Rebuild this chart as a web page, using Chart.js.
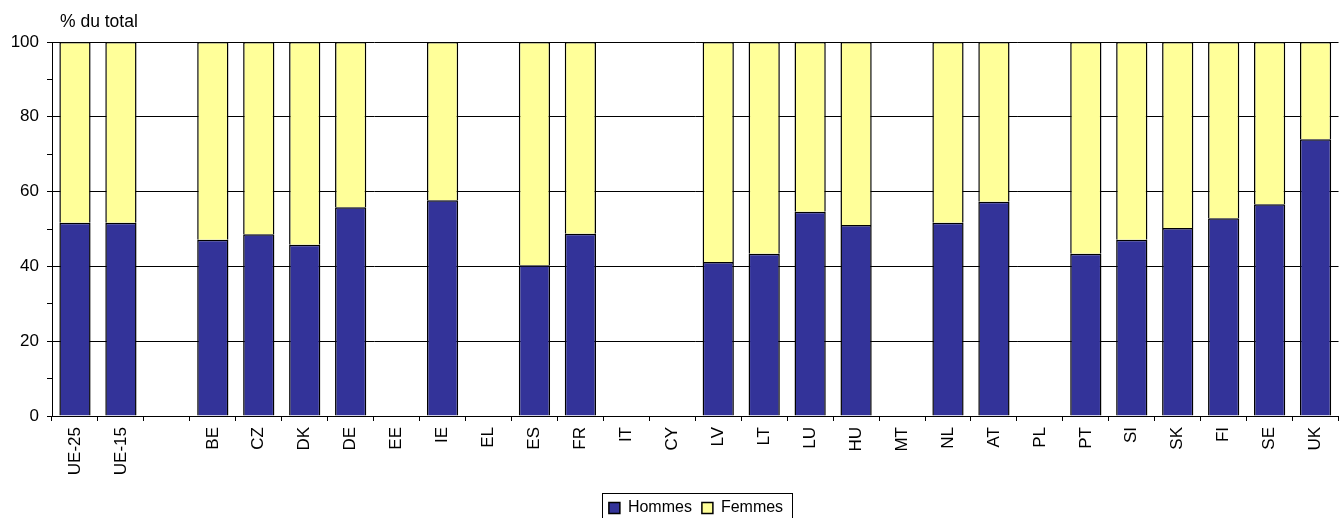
<!DOCTYPE html>
<html>
<head>
<meta charset="utf-8">
<script src="https://cdn.jsdelivr.net/npm/chart.js@4/dist/chart.umd.min.js"></script>
<style>
  html, body { margin: 0; padding: 0; background: #fff; }
  #wrap { position: relative; width: 1342px; height: 518px; }
</style>
</head>
<body>
<div id="wrap"><canvas id="chart"></canvas></div>
<script>
const categories = ['UE-25', 'UE-15', '', 'BE', 'CZ', 'DK', 'DE', 'EE', 'IE', 'EL', 'ES', 'FR', 'IT', 'CY',
  'LV', 'LT', 'LU', 'HU', 'MT', 'NL', 'AT', 'PL', 'PT', 'SI', 'SK', 'FI', 'SE', 'UK'];

const hommes = [51.7, 51.7, null, 47.1, 48.6, 45.8, 55.8, null, 57.7, null, 40.3, 48.7, null, null,
  41.2, 43.4, 54.6, 51.1, null, 51.7, 57.3, null, 43.4, 47.1, 50.3, 52.9, 56.6, 74.0];

const femmes = [48.3, 48.3, null, 52.9, 51.4, 54.2, 44.2, null, 42.3, null, 59.7, 51.3, null, null,
  58.8, 56.6, 45.4, 48.9, null, 48.3, 42.7, null, 56.6, 52.9, 49.7, 47.1, 43.4, 26.0];

const yTicks = [0, 20, 40, 60, 80, 100];
const unitLabel = '% du total';

const FONT = 'Arial, "Liberation Sans", sans-serif';

// title text above the y axis + frame round the legend
const extras = {
  id: 'extras',
  afterLayout(chart) {
    const lg = chart.legend;
    lg.left = chart.chartArea.left;
    lg.top += 8;
  },
  afterDraw(chart) {
    const ctx = chart.ctx;
    const area = chart.chartArea;
    ctx.save();
    ctx.fillStyle = '#000';
    ctx.font = '17.5px ' + FONT;
    ctx.textBaseline = 'middle';
    ctx.fillText(unitLabel, area.left + 8, area.top - 20);

    const boxes = chart.legend.legendHitBoxes;
    if (boxes && boxes.length) {
      const first = boxes[0];
      const last = boxes[boxes.length - 1];
      const x0 = Math.round(first.left - 7) + 0.5;
      const x1 = Math.round(last.left + last.width + 9) + 0.5;
      const y0 = Math.round(first.top - 7) + 0.5;
      const y1 = Math.round(first.top + first.height + 6) + 0.5;
      ctx.strokeStyle = '#000';
      ctx.lineWidth = 1;
      ctx.strokeRect(x0, y0, x1 - x0, y1 - y0);
    }
    ctx.restore();
  }
};

new Chart(document.getElementById('chart'), {
  type: 'bar',
  data: {
    labels: categories,
    datasets: [
      { label: 'Hommes', data: hommes, backgroundColor: '#333399', borderColor: '#000', borderWidth: 1.5 },
      { label: 'Femmes', data: femmes, backgroundColor: '#FFFF99', borderColor: '#000', borderWidth: 1.5 }
    ]
  },
  options: {
    responsive: true,
    maintainAspectRatio: false,
    animation: false,
    datasets: { bar: { barPercentage: 0.68, categoryPercentage: 1 } },
    layout: { padding: { left: 0, right: 2, top: 42, bottom: 0 } },
    plugins: {
      tooltip: { enabled: false },
      legend: {
        position: 'bottom',
        labels: {
          color: '#000',
          font: { family: FONT, size: 16 },
          boxWidth: 11,
          boxHeight: 11,
          padding: 10
        }
      }
    },
    scales: {
      x: {
        stacked: true,
        offset: true,
        grid: {
          offset: true,
          drawOnChartArea: false,
          color: '#000',
          tickLength: 5
        },
        border: { color: '#000', width: 1 },
        ticks: {
          color: '#000',
          font: { family: FONT, size: 17 },
          minRotation: 90,
          maxRotation: 90,
          autoSkip: false,
          padding: 6
        },
        afterFit(scale) { scale.height = 66; }
      },
      y: {
        stacked: true,
        min: 0,
        max: 100,
        grid: {
          color: c => (yTicks.includes(c.tick.value) ? '#000' : 'rgba(0,0,0,0)'),
          tickColor: '#000',
          tickLength: 5
        },
        border: { color: '#000', width: 1 },
        ticks: {
          stepSize: 10,
          color: '#000',
          font: { family: FONT, size: 17 },
          padding: 8,
          callback: v => (yTicks.includes(v) ? v : '')
        },
        afterFit(scale) { scale.width = 52; }
      }
    }
  },
  plugins: [extras]
});
</script>
</body>
</html>
